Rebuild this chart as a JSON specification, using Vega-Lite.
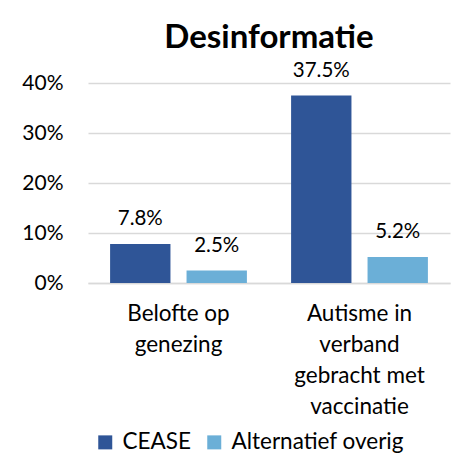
{
  "$schema": "https://vega.github.io/schema/vega-lite/v6.json",
  "width": 362,
  "height": 200,
  "autosize": "none",
  "padding": {"left": 88, "top": 83, "right": 23, "bottom": 174},
  "background": "white",
  "config": {"view": {"stroke": null}, "font": "Lato"},
  "title": {"text": "Desinformatie", "fontSize": 33, "font": "Lato", "fontWeight": "bold", "anchor": "middle", "offset": 6, "color": "black"},
  "data": {"values": [
    {"cat": "Belofte op|genezing", "series": "CEASE", "value": 0.078},
    {"cat": "Belofte op|genezing", "series": "Alternatief overig", "value": 0.025},
    {"cat": "Autisme in|verband|gebracht met|vaccinatie", "series": "CEASE", "value": 0.375},
    {"cat": "Autisme in|verband|gebracht met|vaccinatie", "series": "Alternatief overig", "value": 0.052}
  ]},
  "encoding": {
    "x": {"field": "cat", "type": "nominal", "sort": null,
      "scale": {"paddingInner": 0, "paddingOuter": 0},
      "axis": {"title": null, "labelAngle": 0, "ticks": false, "domainColor": "#D9D9D9", "domainWidth": 1.5,
        "labelFontSize": 22.5, "labelFont": "Lato", "labelColor": "black", "labelLineHeight": 31, "labelPadding": 19,
        "labelBaseline": "top", "labelExpr": "split(datum.label, '|')"}},
    "xOffset": {"field": "series", "type": "nominal", "sort": ["CEASE", "Alternatief overig"],
      "scale": {"paddingInner": 0.2105, "paddingOuter": 0.289}},
    "y": {"field": "value", "type": "quantitative",
      "scale": {"domain": [0, 0.4]},
      "axis": {"title": null, "values": [0, 0.1, 0.2, 0.3, 0.4], "format": ".0%", "ticks": false, "domain": false,
        "gridColor": "#D9D9D9", "gridWidth": 1.5, "labelFontSize": 21, "labelFont": "Lato", "labelColor": "black", "labelPadding": 25}}
  },
  "layer": [
    {"mark": {"type": "bar"},
     "encoding": {"color": {"field": "series", "type": "nominal",
       "scale": {"domain": ["CEASE", "Alternatief overig"], "range": ["#2F5597", "#6BAFD7"]},
       "legend": {"title": null, "orient": "none", "legendX": 6, "legendY": 348, "direction": "horizontal",
         "symbolType": "square", "symbolSize": 196, "symbolStrokeWidth": 0, "labelFontSize": 22.5, "labelFont": "Lato",
         "labelColor": "black", "columnPadding": 12, "labelOffset": 6, "labelLimit": 400}}}},
    {"mark": {"type": "text", "dy": -25, "fontSize": 20.5, "font": "Lato", "color": "black"},
     "encoding": {"text": {"field": "value", "type": "quantitative", "format": ".1%"}}}
  ]
}
